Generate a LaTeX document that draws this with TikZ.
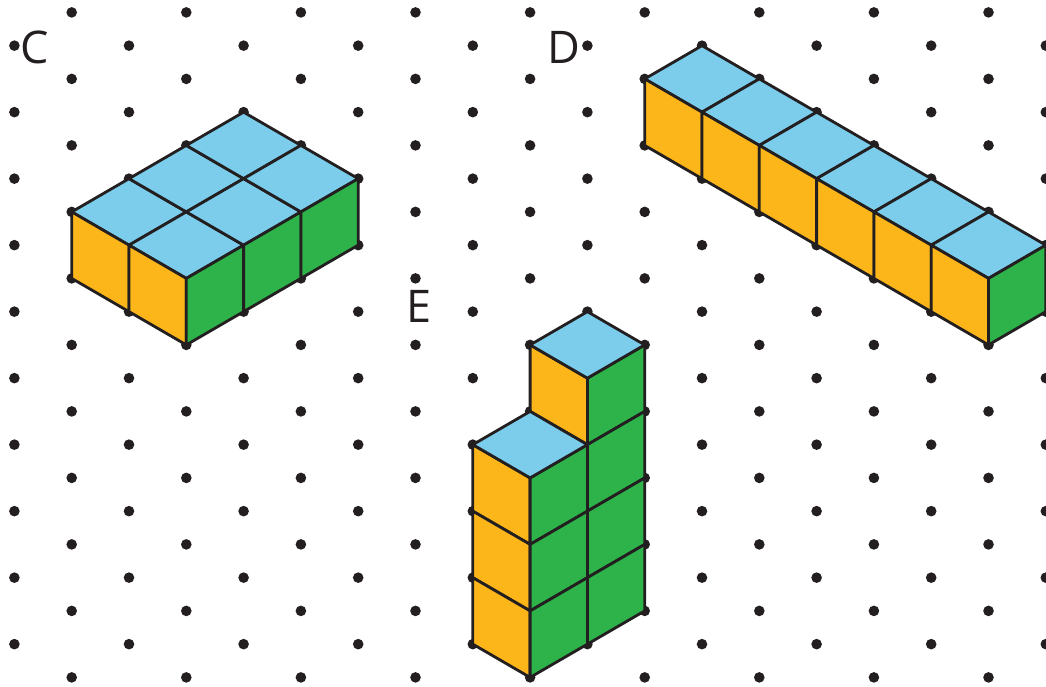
\documentclass[tikz,border=0pt]{standalone}
\usepackage{fontspec}
\setmainfont{Open Sans}
\definecolor{cubeblue}{HTML}{7BCDEB}
\definecolor{cubeorange}{HTML}{FDB61A}
\definecolor{cubegreen}{HTML}{2DB34A}
\definecolor{ink}{HTML}{231F20}
\tikzset{
  lattice/.style={x={57.3pt},y={-33.25pt}},
  dotmark/.style={fill=ink,draw=none},
  face/.style={draw=ink,line width=2.8pt,line join=round},
  topface/.style={face,fill=cubeblue},
  leftface/.style={face,fill=cubeorange},
  rightface/.style={face,fill=cubegreen},
  letter/.style={text=ink,inner sep=0pt,font=\fontsize{45}{45}\selectfont}
}
\newcommand{\tface}[2]{\draw[topface] (#1,#2) -- ++(1,-1) -- ++(1,1) -- ++(-1,1) -- cycle;}
\newcommand{\lface}[2]{\draw[leftface] (#1,#2) -- ++(1,1) -- ++(0,2) -- ++(-1,-1) -- cycle;}
\newcommand{\rface}[2]{\draw[rightface] (#1,#2) -- ++(1,-1) -- ++(0,2) -- ++(-1,1) -- cycle;}
\begin{document}
\begin{tikzpicture}[lattice,shift={(14.4pt,-12.4pt)}]
\useasboundingbox (-14.4pt,12.4pt) rectangle (1031.6pt,-674.6pt);
\foreach \i in {0,...,18}{
  \foreach \j in {0,...,20}{
    \pgfmathtruncatemacro{\oddsum}{mod(\i+\j,2)}
    \ifnum\oddsum=1
      \fill[dotmark] (\i,\j) circle[radius=5.3pt];
    \fi
  }
}
% C
\foreach \a/\b in {1/6,2/5,3/4,2/7,3/6,4/5}{\tface{\a}{\b}}
\foreach \a/\b in {1/6,2/7}{\lface{\a}{\b}}
\foreach \a/\b in {3/8,4/7,5/6}{\rface{\a}{\b}}
% D
\foreach \a/\b in {11/2,12/3,13/4,14/5,15/6,16/7}{\tface{\a}{\b}}
\foreach \a/\b in {11/2,12/3,13/4,14/5,15/6,16/7}{\lface{\a}{\b}}
\foreach \a/\b in {17/8}{\rface{\a}{\b}}
% E
\foreach \b in {11,13,15,17}{\rface{10}{\b}}
\lface{9}{10}
\tface{9}{10}
\foreach \b in {13,15,17}{\lface{8}{\b}}
\foreach \b in {14,16,18}{\rface{9}{\b}}
\tface{8}{13}
\node[letter] (labelC) at (20.6pt,-35pt) {C};
\node[letter] (labelD) at (549.6pt,-35pt) {D};
\node[letter] (labelE) at (405pt,-294pt) {E};
\end{tikzpicture}
\end{document}
